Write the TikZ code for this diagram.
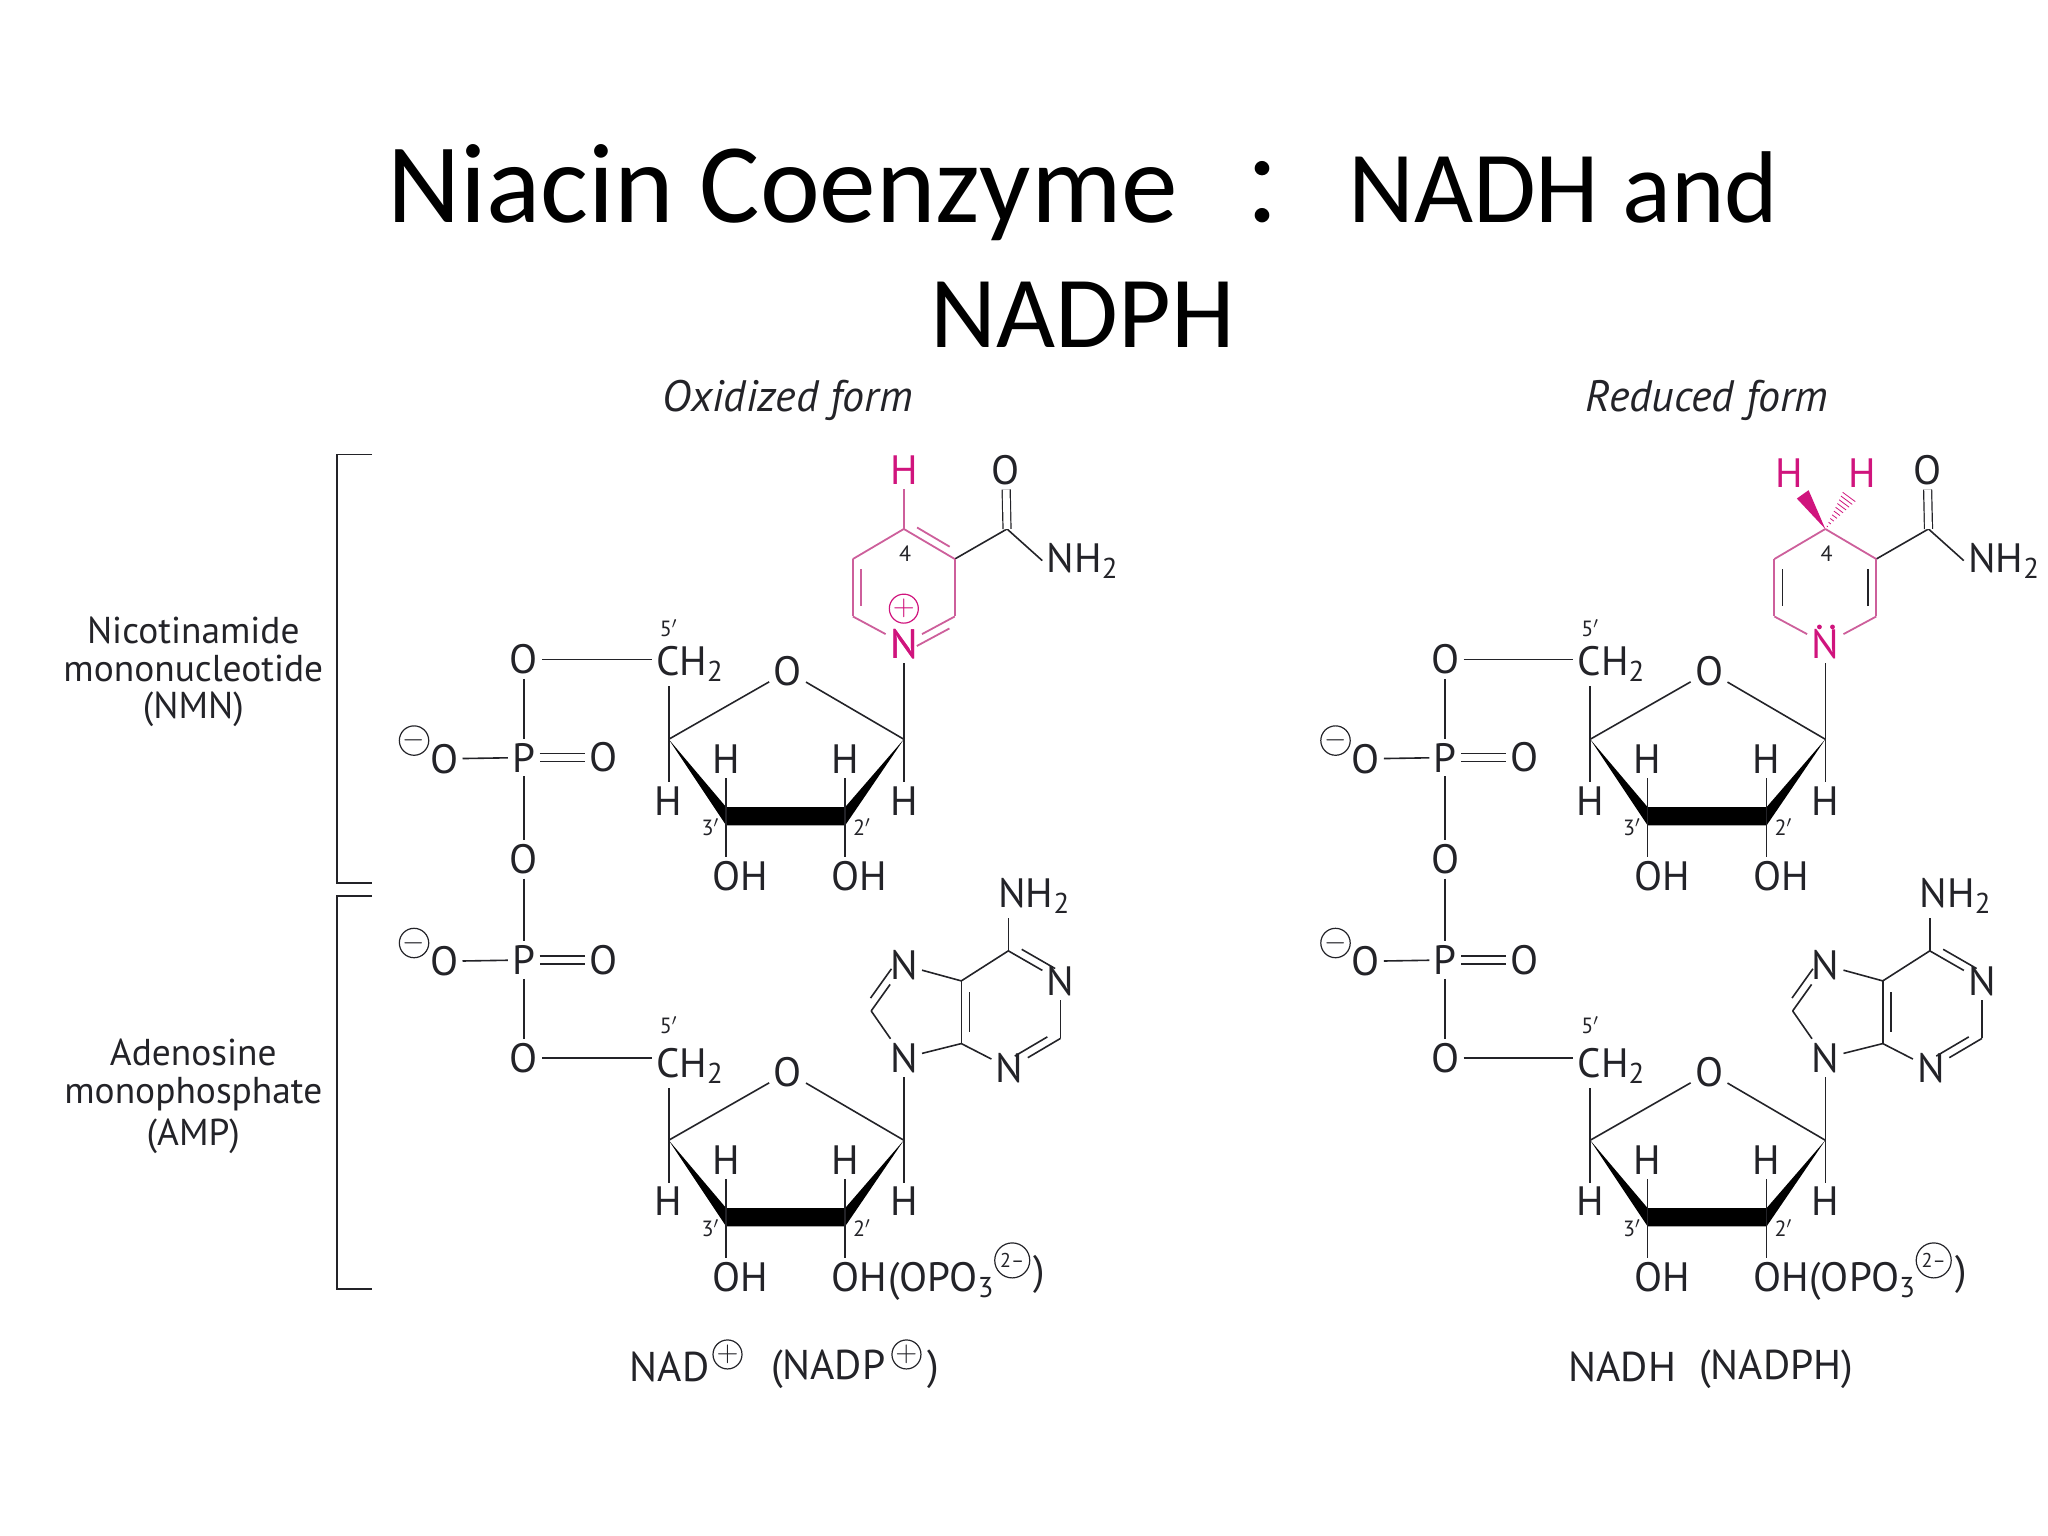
\documentclass[tikz,border=0pt]{standalone}
\usepackage{fontspec}
\setmainfont{PT Sans}
\newfontfamily\titlefont{Carlito}
\newfontfamily\cjk{Noto Sans CJK SC}
\usetikzlibrary{calc}
\definecolor{chemgray}{RGB}{35,35,40}
\definecolor{nadpink}{RGB}{208,20,125}
\definecolor{ringpink}{RGB}{205,95,155}
\tikzstyle{atom}=[font=\fontsize{20.5}{22}\selectfont,text=chemgray,inner sep=2pt]
\tikzstyle{redatom}=[atom,text=nadpink]
\tikzstyle{tiny}=[font=\fontsize{11}{12}\selectfont,text=chemgray,inner sep=0pt]
\tikzstyle{caption}=[anchor=base,font=\fontsize{18.7}{20}\selectfont,text=chemgray,inner sep=0pt]
\tikzstyle{formname}=[caption,font=\itshape\fontsize{22}{24}\selectfont]
\tikzstyle{molname}=[caption,font=\fontsize{20.8}{24}\selectfont]
\tikzstyle{charge}=[circle,draw=chemgray,line width=.6pt,minimum size=14.5pt,inner sep=0pt,text=chemgray,font=\Large]
\tikzstyle{bond}=[draw=chemgray,line width=.8pt]
\tikzstyle{redbond}=[draw=ringpink,line width=.9pt]
\tikzstyle{dblbond}=[bond,double=white,double distance=3.4pt,line width=.6pt]
\newcommand{\innerbond}[3]{\path[#3] ($(#1.center)!.18!(#2.center)!4pt!90:(#2.center)$) edge ($(#2.center)!.18!(#1.center)!-4pt!90:(#1.center)$);}
\begin{document}
\begin{tikzpicture}[x=0.6531pt,y=-0.6531pt]
\useasboundingbox (0,0) rectangle (1568,1176);

% Title
\node[anchor=base west,inner sep=0pt,font=\titlefont\fontsize{56.7}{60}\selectfont] (titleA) at (296,170) {Niacin Coenzyme};
\node[anchor=base,inner sep=0pt,font=\cjk\fontsize{48}{60}\selectfont] (titleB) at (985,170) {：};
\node[anchor=base west,inner sep=0pt,font=\titlefont\fontsize{51}{60}\selectfont] (titleC) at (1032,170) {NADH and};
\node[anchor=base,inner sep=0pt,font=\titlefont\fontsize{51}{60}\selectfont] (titleD) at (829,266) {NADPH};

% Brackets and their captions
\draw[bond] (285,348) -- (258,348) -- (258,676) -- (285,676);
\draw[bond] (285,686) -- (258,686) -- (258,987) -- (285,987);
\foreach \pos/\name/\txt in {{(148,493)/capA/Nicotinamide}, {(148,522)/capB/mononucleotide}, {(148,550)/capC/(NMN)}, {(148,816)/capD/Adenosine}, {(148,845)/capE/monophosphate}, {(148,877)/capF/(AMP)}}
    \node[caption] (\name) at \pos {\txt};
\node[formname] (formA) at (603,315) {Oxidized form};
\node[formname] (formB) at (1307,315) {Reduced form};

% Both molecules, phosphates and sugars are the same
\foreach \dx in {0,705.5} {
    % Phosphate bridge
    \foreach \pos/\name/\txt in {{(401+\dx,505)/Oa/O}, {(401+\dx,580)/Pa/P}, {(340+\dx,581)/Ob/O}, {(462+\dx,580)/Oc/O}, {(401+\dx,658)/Oe/O}, {(401+\dx,735)/Pb/P}, {(340+\dx,736)/Of/O}, {(462+\dx,735)/Og/O}, {(401+\dx,810)/Od/O}}
        \node[atom] (\name) at \pos {\txt};
    \foreach \source/\dest in {Oa/Pa, Ob/Pa, Pa/Oe, Oe/Pb, Of/Pb, Pb/Od}
        \path[bond] (\source) -- (\dest);
    \foreach \source/\dest in {Pa/Oc, Pb/Og}
        \path[dblbond] (\source) -- (\dest);
    \node[charge] (mA) at (317+\dx,567) {$-$};
    \node[charge] (mB) at (317+\dx,722) {$-$};

    % Ribose rings
    \foreach \dy/\oname/\five in {0/Oa/0,307/Od/2} {
        \node[atom,anchor=base west] (CH) at (499+\dx,517+\dy+\five/2) {CH\textsubscript{2}};
        \node[tiny] (fiveP) at (512+\dx,481+\dy-\five*1.5) {5$'$};
        \foreach \pos/\name/\txt in {{(603+\dx,514+\dy)/Or/O}, {(512+\dx,613+\dy)/Ha/H}, {(692+\dx,613+\dy)/Hb/H}, {(556+\dx,581+\dy)/Hc/H}, {(647+\dx,581+\dy)/Hd/H}, {(567+\dx,671+\dy)/OHa/OH}, {(658+\dx,671+\dy)/OHb/OH}}
            \node[atom] (\name) at \pos {\txt};
        \foreach \pos/\name in {{(512+\dx,566+\dy)/Ca}, {(692+\dx,566+\dy)/Cb}, {(556+\dx,625+\dy)/Cc}, {(647+\dx,625+\dy)/Cd}, {(556+\dx,618+\dy)/Ce}, {(647+\dx,618+\dy)/Cf}, {(556+\dx,632+\dy)/Cg}, {(647+\dx,632+\dy)/Ch}}
            \node[coordinate] (\name) at \pos {};
        \node[tiny] (threeP) at (544+\dx,633+\dy) {3$'$};
        \node[tiny] (twoP) at (660+\dx,633+\dy) {2$'$};
        \fill[black] (Ca.center) -- (Ce.center) -- (Cf.center) -- (Cb.center) -- (Ch.center) -- (Cg.center) -- cycle;
        \path[bond] (\oname) -- (\oname -| CH.west);
        \path[bond] (Ca) -- (Ca |- CH.south);
        \foreach \source/\dest in {Ca/Or, Cb/Or, Ca/Ha, Cb/Hb, Cc/Hc, Cd/Hd}
            \path[bond] (\source) -- (\dest);
        \path[bond] (Cc) -- (Cc |- OHa.north);
        \path[bond] (Cd) -- (Cd |- OHb.north);
    }

    % 2' phosphate of NADP
    \node[atom,anchor=base west,inner sep=0pt,xshift=-2pt] (OPO) at (OHb.base east) {(OPO\textsubscript{3}};
    \node[charge,minimum size=17.5pt,font=\fontsize{10}{10}\selectfont] (twoM) at (775+\dx,965) {2–};
    \node[atom,inner sep=0pt] (closeP) at (796+\dx,976) {)};

    % Adenine
    \foreach \pos/\name/\txt in {{(692+\dx,810)/Nn/N}, {(692+\dx,739)/Ns/N}, {(812+\dx,751)/Na/N}, {(773+\dx,818)/Nc/N}}
        \node[atom] (\name) at \pos {\txt};
    \foreach \pos/\name in {{(667+\dx,774)/Ai}, {(736+\dx,799)/Aj}, {(736+\dx,751)/Ak}, {(772+\dx,728)/Al}, {(812+\dx,795)/Am}}
        \node[coordinate] (\name) at \pos {};
    \node[atom,anchor=base west] (NHa) at (761+\dx,695) {NH\textsubscript{2}};
    \foreach \source/\dest in {Nn/Ai, Ai/Ns, Nn/Aj, Aj/Ak, Ak/Ns, Ak/Al, Al/Na, Na/Am, Am/Nc, Nc/Aj, Nn/Cb}
        \path[bond] (\source) -- (\dest);
    \path[bond] (Al) -- (Al |- NHa.south);
    \innerbond{Ai}{Ns}{bond}
    \innerbond{Ak}{Aj}{bond}
    \innerbond{Al}{Na}{bond}
    \innerbond{Nc}{Am}{bond}

    % Nicotinamide ring and carboxamide
    \foreach \pos/\name in {{(692+\dx,405)/Ra}, {(731+\dx,428)/Rb}, {(731+\dx,472)/Rc}, {(653+\dx,472)/Rd}, {(653+\dx,428)/Re}, {(771+\dx,405)/Rf}}
        \node[coordinate] (\name) at \pos {};
    \node[atom] (Ocarb) at (770+\dx,360) {O};
    \node[atom,anchor=base west] (NHb) at (798+\dx,438) {NH\textsubscript{2}};
    \path[bond] (Rb) -- (Rf);
    \path[bond] (Rf) -- (NHb.west);
    \path[dblbond] (Rf) -- (Ocarb);
    \node[redatom] (Nr) at (692+\dx,493) {N};
    \node[tiny] (four) at (693+\dx,424) {4};
    \foreach \source/\dest in {Ra/Rb, Rb/Rc, Rc/Nr, Nr/Rd, Rd/Re, Re/Ra}
        \path[redbond] (\source) -- (\dest);
    \node[coordinate] (Cup) at (692+\dx,566) {};
    \path[bond] (Nr) -- (Cup);
}

% Oxidized ring
\node[redatom] (Nox) at (692,493) {N};
\node[redatom] (Hox) at (692,360) {H};
\coordinate (Rox) at (692,405);
\coordinate (Sox) at (731,428);
\coordinate (Tox) at (731,472);
\coordinate (Uox) at (653,472);
\coordinate (Vox) at (653,428);
\path[redbond] (Rox) -- (Hox);
\innerbond{Rox}{Sox}{redbond}
\innerbond{Vox}{Uox}{redbond}
\innerbond{Tox}{Nox}{redbond}
\node[charge,draw=nadpink,text=nadpink] (plusA) at (692,466) {$+$};

% Reduced ring
\node[redatom] (Hra) at (1370,362) {H};
\node[redatom] (Hrb) at (1426,362) {H};
\innerbond{Re}{Rd}{bond}
\innerbond{Rc}{Rb}{bond}
\fill[nadpink] (Ra.center) -- (1375.7,381.7) -- (1384.7,375.3) -- cycle;
\coordinate (Hhash) at (1416,380);
\foreach \t in {0.08,0.18,...,1.0}
    \draw[nadpink,line width=.4pt] ($(Ra)!\t!(Hhash)!\t*4pt!90:(Hhash)$) -- ($(Ra)!\t!(Hhash)!\t*4pt!-90:(Hhash)$);
\fill[nadpink] (1393,480) circle (1.2pt) (1403,480) circle (1.2pt);

% Names below
\node[molname,anchor=base west] (nadA) at (482,1058) {NAD};
\node[charge] (nadB) at (557,1037) {$+$};
\node[molname,anchor=base west] (nadC) at (590,1056) {(NADP};
\node[charge] (nadD) at (694,1037) {$+$};
\node[molname,anchor=base west] (nadE) at (710,1056) {)};
\node[molname] (nadhA) at (1242,1058) {NADH};
\node[molname] (nadhB) at (1360,1056) {(NADPH)};
\end{tikzpicture}
\end{document}
